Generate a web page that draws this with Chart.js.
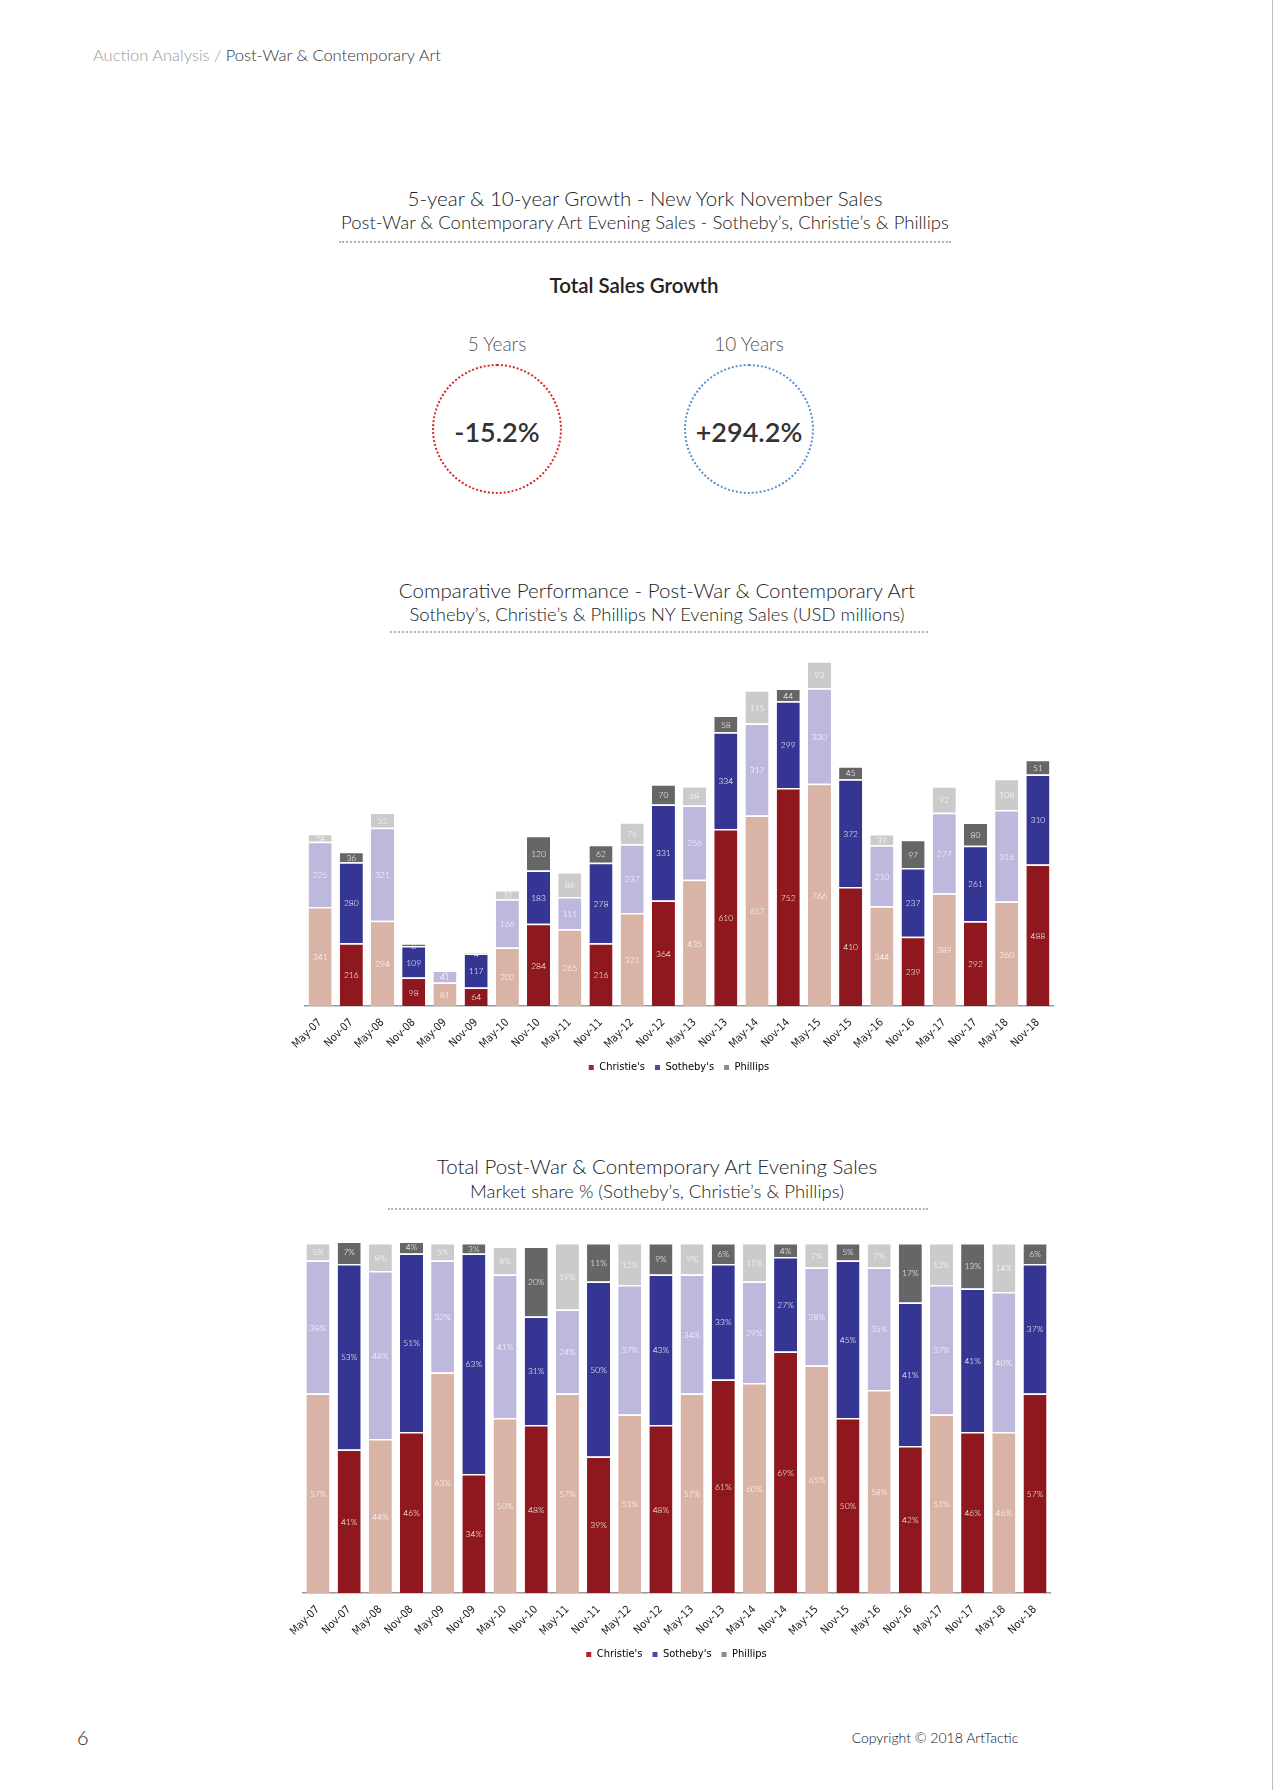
<!DOCTYPE html>
<html>
<head>
<meta charset="utf-8">
<script src="https://cdn.jsdelivr.net/npm/chart.js@4"></script>
<style>
  body { margin: 0; background: #fff; }
  #page { position: relative; width: 1276px; height: 1790px; overflow: hidden; font-family: Lato, "Open Sans", sans-serif; color: #222; }
  .t { position: absolute; transform: translate(-50%, -50%); white-space: nowrap; font-weight: 300; }
  .dots { position: absolute; border-top: 2px dotted #b5b5b5; height: 0; }
  .circle { position: absolute; width: 126px; height: 126px; border-radius: 50%; transform: translate(-50%, -50%); }
  canvas { position: absolute; }
</style>
</head>
<body>
<div id="page">
  <div style="position:absolute; left:93px; top:45px; font-size:16.5px; font-weight:300; white-space:nowrap;"><span style="color:#9a9a9a">Auction Analysis / </span><span style="color:#333">Post-War &amp; Contemporary Art</span></div>

  <div class="t" style="left:645px; top:198px; font-size:20.5px;">5-year &amp; 10-year Growth - New York November Sales</div>
  <div class="t" style="left:645px; top:222px; font-size:18.5px;">Post-War &amp; Contemporary Art Evening Sales - Sotheby’s, Christie’s &amp; Phillips</div>
  <div class="dots" style="left:339px; top:241px; width:612px;"></div>

  <div class="t" style="left:634px; top:285px; font-size:20.5px; font-weight:600;">Total Sales Growth</div>
  <div class="t" style="left:497px; top:343px; font-size:19px; color:#555;">5 Years</div>
  <div class="t" style="left:749px; top:343px; font-size:19px; color:#555;">10 Years</div>
  <div class="circle" style="left:497px; top:429px; border:2px dotted #d9262b;"></div>
  <div class="circle" style="left:749px; top:429px; border:2px dotted #5b8fd0;"></div>
  <div class="t" style="left:497px; top:431px; font-size:27px; font-weight:600; color:#333;">-15.2%</div>
  <div class="t" style="left:749px; top:431px; font-size:27px; font-weight:600; color:#333;">+294.2%</div>

  <div class="t" style="left:657px; top:590px; font-size:20.5px;">Comparative Performance - Post-War &amp; Contemporary Art</div>
  <div class="t" style="left:657px; top:614px; font-size:18.5px;">Sotheby’s, Christie’s &amp; Phillips NY Evening Sales (USD millions)</div>
  <div class="dots" style="left:390px; top:631px; width:538px;"></div>

  <canvas id="myChart1" width="800" height="450" style="left:280px; top:640px;"></canvas>

  <div class="t" style="left:657px; top:1166px; font-size:20.5px;">Total Post-War &amp; Contemporary Art Evening Sales</div>
  <div class="t" style="left:657px; top:1191px; font-size:18.5px;">Market share % (Sotheby’s, Christie’s &amp; Phillips)</div>
  <div class="dots" style="left:388px; top:1208px; width:540px;"></div>

  <canvas id="myChart2" width="800" height="450" style="left:280px; top:1225px;"></canvas>

  <div style="position:absolute; left:77px; top:1725px; font-size:20px; font-weight:300;">6</div>
  <div class="t" style="left:935px; top:1737px; font-size:14px; font-weight:300; color:#111;">Copyright © 2018 ArtTactic</div>
  <div style="position:absolute; left:1272px; top:0; width:1px; height:1790px; background:#bdbdbd;"></div>
</div>

<script>
const sales = ['May-07','Nov-07','May-08','Nov-08','May-09','Nov-09','May-10','Nov-10','May-11','Nov-11','May-12','Nov-12',
  'May-13','Nov-13','May-14','Nov-14','May-15','Nov-15','May-16','Nov-16','May-17','Nov-17','May-18','Nov-18'];

// USD millions
const christiesUsd = [341,216,294,98,81,64,202,284,265,216,321,364,435,610,657,752,766,410,344,239,389,292,360,488];
const sothebysUsd  = [225,280,321,109,41,117,166,183,111,278,237,331,256,334,317,299,330,372,210,237,277,261,316,310];
const phillipsUsd  = [28,36,52,8,3,4,32,120,86,62,76,70,68,58,115,44,93,45,39,97,92,80,108,51];

// market share %
const christiesPct = [57,41,44,46,63,34,50,48,57,39,51,48,57,61,60,69,65,50,58,42,51,46,46,57];
const sothebysPct  = [38,53,48,51,32,63,41,31,24,50,37,43,34,33,29,27,28,45,35,41,37,41,40,37];
const phillipsPct  = [5,7,8,4,5,3,8,20,19,11,12,9,9,6,11,4,7,5,7,17,12,13,14,6];

const houses = ["Christie's", "Sotheby's", "Phillips"];
const darkCol = ['#8e181d', '#353594', '#666666'];
const lightCol = ['#d9b3a6', '#bdb9dd', '#cbcbcb'];
const legendCol = ['#a8262b', '#4a4ab0', '#8a8a8a'];

function barColors(i) {
  return sales.map(s => s.startsWith('May') ? lightCol[i] : darkCol[i]);
}

const barLabels = {
  id: 'barLabels',
  afterDatasetsDraw(chart, args, opts) {
    const ctx = chart.ctx;
    ctx.save();
    ctx.font = '300 8.5px Lato, sans-serif';
    ctx.fillStyle = '#fff';
    ctx.textAlign = 'center';
    ctx.textBaseline = 'middle';
    chart.data.datasets.forEach((ds, di) => {
      chart.getDatasetMeta(di).data.forEach((bar, i) => {
        const p = bar.getProps(['x', 'y', 'base'], true);
        ctx.fillText(ds.data[i] + (opts.suffix || ''), p.x, (p.y + p.base) / 2 + 1);
      });
    });
    ctx.restore();
  }
};

function makeChart(id, vals, yMax, suffix, pad) {
  let ctx = document.getElementById(id).getContext('2d');
  return new Chart(ctx, {
    type: 'bar',
    data: {
      labels: sales,
      datasets: vals.map((v, i) => ({
        label: houses[i],
        data: v,
        backgroundColor: barColors(i),
        borderColor: '#ffffff',
        borderWidth: { top: 1.5, left: 0, right: 0, bottom: 0 },
        borderSkipped: false,
        categoryPercentage: 1,
        barPercentage: 0.74
      }))
    },
    options: {
      responsive: false,
      animation: false,
      layout: { padding: pad },
      plugins: {
        tooltip: { enabled: false },
        barLabels: { suffix: suffix },
        legend: {
          position: 'bottom',
          labels: {
            boxWidth: 5,
            boxHeight: 5,
            padding: 10,
            color: '#222',
            font: { family: '"Liberation Sans Narrow", "DejaVu Sans Condensed", sans-serif', size: 11 },
            generateLabels: () => houses.map((h, i) => ({
              text: h, fillStyle: legendCol[i], strokeStyle: legendCol[i], lineWidth: 0, datasetIndex: i
            }))
          }
        }
      },
      scales: {
        x: {
          stacked: true,
          grid: { display: false },
          border: { display: true, color: '#9a9a9a', width: 1.5 },
          ticks: {
            autoSkip: false, minRotation: 45, maxRotation: 45, padding: 2,
            color: '#222',
            font: { family: '"Liberation Sans Narrow", "DejaVu Sans Condensed", sans-serif', size: 11 }
          },
          afterFit: s => { s.height = 46; s.paddingLeft = 0; s.paddingRight = 0; }
        },
        y: { stacked: true, display: false, min: 0, max: yMax }
      }
    },
    plugins: [barLabels]
  });
}

let myChart1 = makeChart('myChart1', [christiesUsd, sothebysUsd, phillipsUsd], 1200, '',
  { left: 24.5, right: 26.5, top: 18, bottom: 7 });
let myChart2 = makeChart('myChart2', [christiesPct, sothebysPct, phillipsPct], 100, '%',
  { left: 22.4, right: 29.4, top: 18, bottom: 5 });
</script>
</body>
</html>
